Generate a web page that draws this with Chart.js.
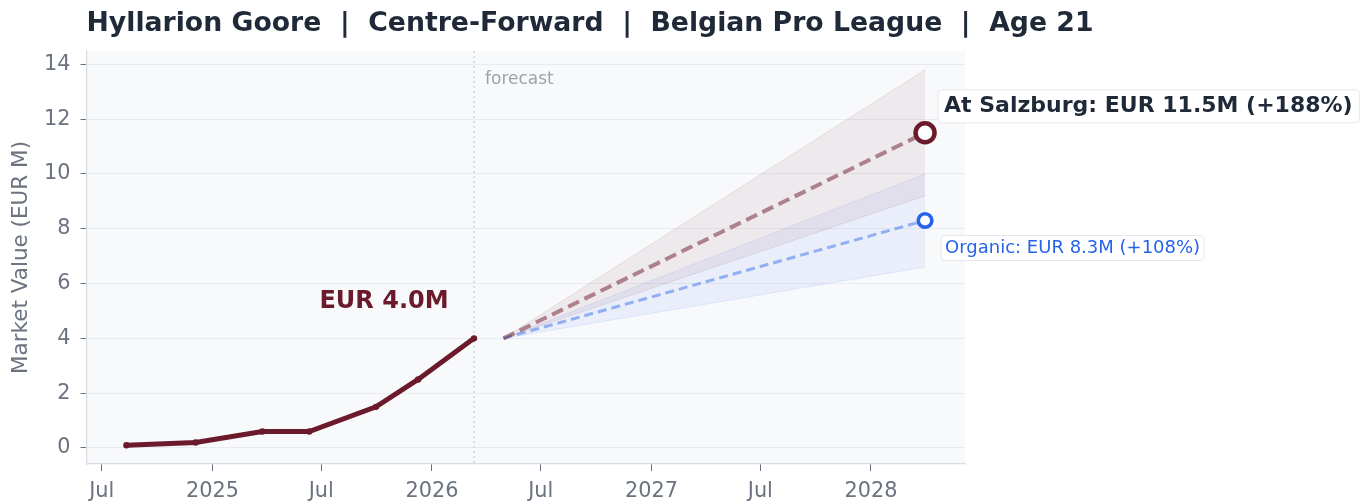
<!DOCTYPE html>
<html>
<head>
<meta charset="utf-8">
<script src="https://cdn.jsdelivr.net/npm/chart.js@4.4.1/dist/chart.umd.min.js"></script>
<style>
  html, body { margin: 0; padding: 0; background: #ffffff; }
  #wrap { width: 1368px; height: 504px; }
</style>
</head>
<body>
<div id="wrap"><canvas id="valueChart" width="1368" height="504"></canvas></div>
<script>
// history of market value (EUR M)
const histDates = ["2024-08-11", "2024-12-04", "2025-03-25", "2025-06-11", "2025-09-30", "2025-12-09", "2026-03-12"];
const histValues = [0.1, 0.2, 0.6, 0.6, 1.5, 2.5, 4.0];

// forecast start / end
const fcDates = ["2026-04-30", "2028-03-31"];
const salzMid = [4.0, 11.5];
const salzHigh = [4.0, 13.8];
const salzLow = [4.0, 9.2];
const orgMid = [4.0, 8.3];
const orgHigh = [4.0, 10.0];
const orgLow = [4.0, 6.6];

const yTicks = [0, 2, 4, 6, 8, 10, 12, 14];
const xTickDates = ["2024-07-01", "2025-01-01", "2025-07-01", "2026-01-01", "2026-07-01", "2027-01-01", "2027-07-01", "2028-01-01"];
const xTickLabels = ["Jul", "2025", "Jul", "2026", "Jul", "2027", "Jul", "2028"];

const titleText = "Hyllarion Goore  |  Centre-Forward  |  Belgian Pro League  |  Age 21";
const salzLabel = "At Salzburg: EUR 11.5M (+188%)";
const orgLabel = "Organic: EUR 8.3M (+108%)";
const nowLabel = "EUR 4.0M";

const MAROON = "#6b1a2b";
const BLUE = "#2563eb";
const DARK = "#1f2937";
const GREY = "#6b7280";

function ms(d) {
  const p = d.split("-");
  return Date.UTC(+p[0], +p[1] - 1, +p[2]);
}
function pts(dates, vals) {
  return dates.map((d, i) => ({ x: ms(d), y: vals[i] }));
}

// x limits like matplotlib's 5% margin
const xFirst = ms(histDates[0]);
const xLast = ms(fcDates[fcDates.length - 1]);
const xPad = (xLast - xFirst) * 0.05;
const yPad = (salzHigh[1] - histValues[0]) * 0.05;

Chart.defaults.font.family = "'DejaVu Sans', sans-serif";

const lastIdx = fcDates.length - 1;

const decor = {
  id: "decor",
  beforeDraw(chart) {
    const { ctx, chartArea: a } = chart;
    ctx.save();
    ctx.fillStyle = "#f8f9fb";
    ctx.fillRect(a.left, a.top, a.right - a.left, a.bottom - a.top);
    ctx.restore();
  },
  beforeDatasetsDraw(chart) {
    const { ctx, chartArea: a, scales } = chart;
    const fx = scales.x.getPixelForValue(ms(histDates[histDates.length - 1]));
    ctx.save();
    ctx.strokeStyle = "#d1d5db";
    ctx.lineWidth = 1.5;
    ctx.setLineDash([2, 3]);
    ctx.beginPath();
    ctx.moveTo(fx, a.top);
    ctx.lineTo(fx, a.bottom);
    ctx.stroke();
    ctx.setLineDash([]);
    ctx.fillStyle = "#9ca3af";
    ctx.font = "17px 'DejaVu Sans'";
    ctx.textBaseline = "middle";
    ctx.fillText("forecast", fx + 11, a.top + 29);
    ctx.restore();
  },
  afterDraw(chart) {
    const { ctx, chartArea: a, scales } = chart;
    const x = scales.x, y = scales.y;
    ctx.save();
    // title
    ctx.fillStyle = DARK;
    ctx.font = "bold 26.7px 'DejaVu Sans'";
    ctx.textBaseline = "alphabetic";
    ctx.fillText(titleText, a.left, 31);

    // current value label
    const nx = x.getPixelForValue(ms(histDates[histDates.length - 1]));
    const ny = y.getPixelForValue(histValues[histValues.length - 1]);
    ctx.fillStyle = MAROON;
    ctx.font = "bold 24px 'DejaVu Sans'";
    ctx.textAlign = "center";
    ctx.textBaseline = "middle";
    ctx.fillText(nowLabel, nx - 90, ny - 37);

    // end annotations
    ctx.textAlign = "left";
    const sx = x.getPixelForValue(ms(fcDates[lastIdx]));
    const sy = y.getPixelForValue(salzMid[lastIdx]);
    ctx.font = "bold 22px 'DejaVu Sans'";
    let w = ctx.measureText(salzLabel).width;
    ctx.fillStyle = "#ffffff";
    ctx.strokeStyle = "#e5e7eb";
    ctx.lineWidth = 1;
    ctx.beginPath();
    ctx.roundRect(sx + 13, sy - 43, w + 13, 33, 4);
    ctx.fill();
    ctx.stroke();
    ctx.fillStyle = DARK;
    ctx.fillText(salzLabel, sx + 19, sy - 27);

    const oy = y.getPixelForValue(orgMid[lastIdx]);
    ctx.font = "18px 'DejaVu Sans'";
    w = ctx.measureText(orgLabel).width;
    ctx.fillStyle = "#ffffff";
    ctx.beginPath();
    ctx.roundRect(sx + 16, oy + 15, w + 8, 25, 4);
    ctx.fill();
    ctx.stroke();
    ctx.fillStyle = BLUE;
    ctx.fillText(orgLabel, sx + 20, oy + 27.5);
    ctx.restore();
  }
};

new Chart(document.getElementById("valueChart"), {
  type: "line",
  data: {
    datasets: [
      {
        label: "History",
        data: pts(histDates, histValues),
        borderColor: MAROON,
        backgroundColor: MAROON,
        borderWidth: 5,
        pointRadius: 3.2,
        pointBorderWidth: 0,
        fill: false,
        order: 0,
      },
      {
        label: "At Salzburg",
        data: pts(fcDates, salzMid),
        borderColor: "rgba(107,26,43,0.5)",
        borderWidth: 4,
        borderDash: [12, 6],
        pointRadius: (c) => (c.dataIndex === lastIdx ? 9.5 : 0),
        pointBorderWidth: 4.5,
        pointBorderColor: MAROON,
        pointBackgroundColor: "#ffffff",
        fill: false,
        order: 1,
      },
      {
        label: "Organic",
        data: pts(fcDates, orgMid),
        borderColor: "rgba(37,99,235,0.45)",
        borderWidth: 3,
        borderDash: [9, 5],
        pointRadius: (c) => (c.dataIndex === lastIdx ? 6.8 : 0),
        pointBorderWidth: 3.6,
        pointBorderColor: BLUE,
        pointBackgroundColor: "#ffffff",
        fill: false,
        order: 2,
      },
      {
        label: "Salzburg high",
        data: pts(fcDates, salzHigh),
        borderColor: "rgba(107,26,43,0.1)",
        borderWidth: 1,
        backgroundColor: "rgba(107,26,43,0.07)",
        pointRadius: 0,
        fill: "+1",
        order: 3,
      },
      {
        label: "Salzburg low",
        data: pts(fcDates, salzLow),
        borderColor: "rgba(107,26,43,0.1)",
        borderWidth: 1,
        pointRadius: 0,
        fill: false,
        order: 4,
      },
      {
        label: "Organic high",
        data: pts(fcDates, orgHigh),
        borderColor: "rgba(37,99,235,0.1)",
        borderWidth: 1,
        backgroundColor: "rgba(37,99,235,0.07)",
        pointRadius: 0,
        fill: "+1",
        order: 5,
      },
      {
        label: "Organic low",
        data: pts(fcDates, orgLow),
        borderColor: "rgba(37,99,235,0.1)",
        borderWidth: 1,
        pointRadius: 0,
        fill: false,
        order: 6,
      },
    ],
  },
  options: {
    responsive: false,
    animation: false,
    layout: { padding: { top: 51, right: 403, bottom: 0, left: 0 } },
    plugins: {
      legend: { display: false },
      tooltip: { enabled: false },
      title: { display: false },
    },
    elements: { line: { tension: 0 } },
    scales: {
      x: {
        type: "linear",
        min: xFirst - xPad,
        max: xLast + xPad,
        afterBuildTicks: (s) => {
          s.ticks = xTickDates.map((d) => ({ value: ms(d) }));
        },
        afterFit: (s) => {
          s.height = 40;
        },
        ticks: {
          autoSkip: false,
          maxRotation: 0,
          color: GREY,
          font: { size: 20.8 },
          padding: 8,
          callback: (v, i) => xTickLabels[i],
        },
        grid: { drawOnChartArea: false, drawTicks: true, tickLength: 7, tickColor: GREY },
        border: { color: "#d9dce1", width: 1.2 },
      },
      y: {
        min: histValues[0] - yPad,
        max: salzHigh[1] + yPad,
        afterBuildTicks: (s) => {
          s.ticks = yTicks.map((v) => ({ value: v }));
        },
        afterFit: (s) => {
          s.width = 86.5;
        },
        ticks: { color: GREY, font: { size: 20.8 }, padding: 10 },
        grid: { color: "#e9ebef", lineWidth: 1, drawTicks: true, tickLength: 6, tickColor: GREY },
        border: { color: "#d9dce1", width: 1.2 },
        title: {
          display: true,
          text: "Market Value (EUR M)",
          color: GREY,
          font: { size: 21.5 },
          padding: { top: 9, bottom: 0 },
        },
      },
    },
  },
  plugins: [decor],
});
</script>
</body>
</html>
